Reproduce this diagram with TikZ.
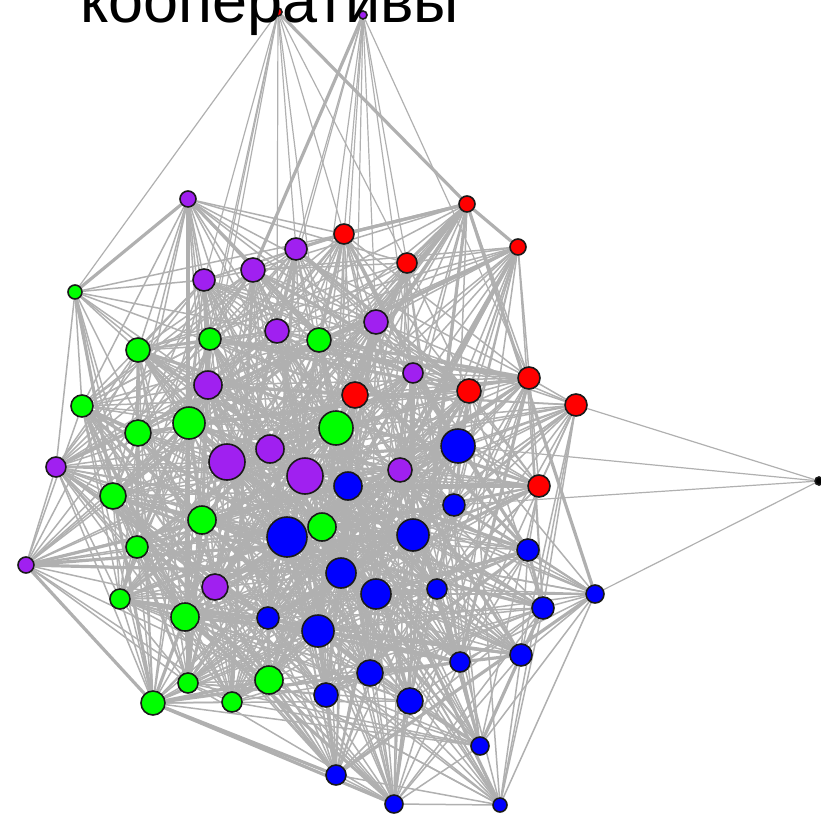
\documentclass[tikz,border=0pt]{standalone}
\usepackage{fontspec}
\setmainfont{Liberation Sans}
\usetikzlibrary{calc}

\definecolor{vpurple}{HTML}{A020F0}
\definecolor{vred}{HTML}{FF0000}
\definecolor{vgreen}{HTML}{00FF00}
\definecolor{vblue}{HTML}{0000FF}
\definecolor{linkgray}{HTML}{B0B0B0}

\pgfdeclarelayer{background}
\pgfsetlayers{background,main}

\tikzset{
    vertex/.style={circle, draw=black!90, line width=1.6pt, inner sep=0pt},
    link/.style={draw=linkgray, line width=1.5pt},
    heavylink/.style={draw=linkgray, line width=3.2pt},
}

\begin{document}
\begin{tikzpicture}[x=1pt, y=-1pt]

    % Fix the frame to the size of the picture
    \useasboundingbox (0,0) rectangle (821,816);

    % Vertices as x/y/radius/colour
    \foreach \x/\y/\r/\c [count=\i] in {
        188/199/8/vpurple, 296/249/11/vpurple, 253/270/12/vpurple, 204/280/11/vpurple,
        277/331/12/vpurple, 376/322/12/vpurple, 413/373/10/vpurple, 208/385/14/vpurple,
        270/449/14/vpurple, 227/462/18/vpurple, 305/476/18/vpurple, 400/470/12/vpurple,
        56/467/10/vpurple, 26/565/8/vpurple, 215/587/13/vpurple,
        467/204/8/vred, 344/234/10/vred, 518/247/8/vred, 407/263/10/vred,
        355/395/13/vred, 469/391/12/vred, 529/378/11/vred, 576/405/11/vred, 539/486/11/vred,
        75/292/7/vgreen, 138/350/12/vgreen, 210/339/11/vgreen, 319/340/12/vgreen,
        82/406/11/vgreen, 138/433/13/vgreen, 189/423/16/vgreen, 336/428/17/vgreen,
        113/496/13/vgreen, 202/520/14/vgreen, 322/527/14/vgreen, 137/547/11/vgreen,
        120/599/10/vgreen, 185/617/14/vgreen, 188/683/10/vgreen, 153/703/12/vgreen,
        232/702/10/vgreen, 269/680/14/vgreen,
        458/446/17/vblue, 348/486/14/vblue, 454/505/11/vblue, 287/537/20/vblue,
        413/535/16/vblue, 341/573/15/vblue, 376/594/15/vblue, 437/589/10/vblue,
        528/550/11/vblue, 595/594/9/vblue, 543/608/11/vblue, 268/618/11/vblue,
        318/631/16/vblue, 460/662/10/vblue, 521/655/11/vblue, 370/673/13/vblue,
        326/695/12/vblue, 410/701/13/vblue, 480/746/9/vblue, 336/775/10/vblue,
        394/804/9/vblue, 500/805/7/vblue,
        278/12/4/vred, 363/15/4/vpurple, 819/481/4/black}
        \node[vertex, fill=\c, minimum size=2*\r] (v\i) at (\x,\y) {};

    \begin{pgfonlayer}{background}

        % Fans of the three outlying vertices
        \foreach \j in {25,4,27,2,5,17,28,19,31,8}
            \draw[link, line width=1.2pt] (v65) -- (v\j);
        \draw[heavylink] (v65) -- (v16);
        \foreach \j in {2,17,19,6,7,20,28,5,32,22}
            \draw[link, line width=1.2pt] (v66) -- (v\j);
        \draw[heavylink] (v66) -- (v3);
        \foreach \j in {23,43,45,52}
            \draw[link, line width=1.2pt] (v67) -- (v\j);

        % Heavy links along the lower left rim
        \foreach \a/\b in {40/14, 40/62, 40/63, 16/17, 16/18, 16/19}
            \draw[heavylink] (v\a) -- (v\b);

        % Links inside the cloud, more likely between near vertices
        \pgfmathsetseed{4}
        \foreach \i in {1,...,63} {
            \pgfmathtruncatemacro\k{\i+1}
            \foreach \j in {\k,...,64} {
                \path let \p1=(v\i.center), \p2=(v\j.center) in
                    \pgfextra{\pgfmathsetmacro\d{veclen(\x2-\x1,\y2-\y1)}\xdef\dist{\d}};
                \pgfmathsetmacro\prob{exp(-\dist/330)}
                \pgfmathsetmacro\roll{rnd}
                \ifdim\roll pt<\prob pt
                    \pgfmathsetmacro\wd{\roll<0.12*\prob ? 3.2 : 1.5}
                    \draw[link, line width=\wd pt] (v\i) -- (v\j);
                \fi
            }
        }

    \end{pgfonlayer}

    % Title, cut by the top edge
    \node[anchor=base west, inner sep=0pt, font=\fontsize{63}{70}\selectfont] (title) at (80,23) {кооперативы};

\end{tikzpicture}
\end{document}
